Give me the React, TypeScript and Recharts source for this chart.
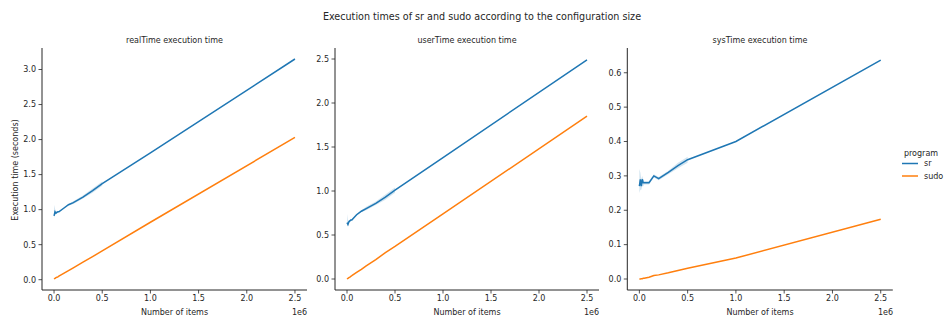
import React from "react";
import { ComposedChart, Line, Area, XAxis, YAxis } from "recharts";

const xs = [0, 10000, 20000, 30000, 40000, 50000, 100000, 150000, 200000, 300000, 400000, 500000, 1000000, 2500000];

const realSr = [0.91, 0.97, 0.95, 0.96, 0.97, 0.97, 1.02, 1.07, 1.1, 1.18, 1.27, 1.37, 1.81, 3.15];
const realSrLow = [0.88, 0.93, 0.93, 0.95, 0.96, 0.96, 1.01, 1.06, 1.08, 1.16, 1.24, 1.34, null, null];
const realSrHigh = [1.07, 1.01, 0.98, 0.98, 0.98, 0.98, 1.03, 1.08, 1.12, 1.2, 1.3, 1.4, null, null];
const realSudo = [0.01, 0.02, 0.03, 0.035, 0.04, 0.05, 0.09, 0.13, 0.17, 0.25, 0.33, 0.41, 0.82, 2.03];

const userSr = [0.64, 0.62, 0.65, 0.66, 0.67, 0.67, 0.73, 0.77, 0.8, 0.86, 0.93, 1.01, 1.38, 2.49];
const userSrLow = [0.6, 0.6, 0.63, 0.65, 0.66, 0.66, 0.72, 0.76, 0.78, 0.84, 0.9, 0.98, null, null];
const userSrHigh = [0.74, 0.66, 0.67, 0.67, 0.68, 0.68, 0.74, 0.78, 0.82, 0.88, 0.96, 1.04, null, null];
const userSudo = [0.0, 0.008, 0.015, 0.022, 0.03, 0.037, 0.074, 0.11, 0.148, 0.22, 0.3, 0.37, 0.74, 1.85];

const sysSr = [0.27, 0.29, 0.27, 0.29, 0.28, 0.28, 0.28, 0.3, 0.292, 0.31, 0.33, 0.347, 0.4, 0.637];
const sysSrLow = [0.25, 0.26, 0.26, 0.27, 0.27, 0.275, 0.275, 0.295, 0.287, 0.305, 0.322, 0.338, null, null];
const sysSrHigh = [0.32, 0.31, 0.29, 0.3, 0.29, 0.285, 0.285, 0.305, 0.297, 0.315, 0.338, 0.356, null, null];
const sysSudo = [0.0, 0.0, 0.001, 0.001, 0.002, 0.002, 0.005, 0.01, 0.012, 0.018, 0.025, 0.031, 0.061, 0.174];

const xTicks = [0, 500000, 1000000, 1500000, 2000000, 2500000];
const realTicks = [0, 0.5, 1.0, 1.5, 2.0, 2.5, 3.0];
const userTicks = [0, 0.5, 1.0, 1.5, 2.0, 2.5];
const sysTicks = [0, 0.1, 0.2, 0.3, 0.4, 0.5, 0.6];

const mainTitle = "Execution times of sr and sudo according to the configuration size";
const panelTitles = ["realTime execution time", "userTime execution time", "sysTime execution time"];
const yLabel = "Execution time (seconds)";
const xLabel = "Number of items";
const legendTitle = "program";
const seriesNames = ["sr", "sudo"];

const SR = "#1f77b4";
const SUDO = "#ff7f0e";
const INK = "#262626";
const FONT = "DejaVu Sans, sans-serif";

function build(sr: number[], lo: (number | null)[], hi: (number | null)[], sudo: number[]) {
  return xs.map((x, i) => ({
    x,
    sr: sr[i],
    sudo: sudo[i],
    band: lo[i] != null && hi[i] != null ? [lo[i], hi[i]] : null,
  }));
}

type PanelProps = {
  data: any[];
  left: number;
  width: number;
  yWidth: number;
  marginRight: number;
  yDomain: [number, number];
  yTicks: number[];
};

function Panel({ data, left, width, yWidth, marginRight, yDomain, yTicks }: PanelProps) {
  const tickStyle = { fontSize: 8, fill: INK, fontFamily: FONT };
  return (
    <div style={{ position: "absolute", left, top: 0 }}>
      <ComposedChart width={width} height={318} data={data} margin={{ top: 48, right: marginRight, bottom: 0, left: 0 }}>
        <XAxis
          dataKey="x"
          type="number"
          domain={[-125000, 2625000]}
          ticks={xTicks}
          tickFormatter={(v: number) => (v / 1e6).toFixed(1)}
          height={28}
          tick={tickStyle}
          tickSize={3.5}
          tickMargin={2}
          stroke={INK}
          axisLine={{ stroke: INK, strokeWidth: 1 }}
          tickLine={{ stroke: INK, strokeWidth: 0.8 }}
          allowDataOverflow
        />
        <YAxis
          type="number"
          domain={yDomain}
          ticks={yTicks}
          tickFormatter={(v: number) => v.toFixed(1)}
          width={yWidth}
          tick={tickStyle}
          tickSize={3.5}
          tickMargin={2.5}
          stroke={INK}
          axisLine={{ stroke: INK, strokeWidth: 1 }}
          tickLine={{ stroke: INK, strokeWidth: 0.8 }}
          allowDataOverflow
        />
        <Area
          dataKey="band"
          type="linear"
          stroke="none"
          fill={SR}
          fillOpacity={0.2}
          isAnimationActive={false}
          connectNulls={false}
          dot={false}
          activeDot={false}
        />
        <Line dataKey="sr" type="linear" stroke={SR} strokeWidth={1.5} dot={false} activeDot={false} isAnimationActive={false} />
        <Line dataKey="sudo" type="linear" stroke={SUDO} strokeWidth={1.5} dot={false} activeDot={false} isAnimationActive={false} />
      </ComposedChart>
    </div>
  );
}

export default function App() {
  const realData = build(realSr, realSrLow, realSrHigh, realSudo);
  const userData = build(userSr, userSrLow, userSrHigh, userSudo);
  const sysData = build(sysSr, sysSrLow, sysSrHigh, sysSudo);
  const centers = [174.5, 467, 760];
  const rightEnds = [307, 599, 893];
  return (
    <div style={{ position: "absolute", left: 0, top: 0, width: 945, height: 318, background: "#fff", fontFamily: FONT }}>
      <Panel data={realData} left={0} width={310} yWidth={42} marginRight={3} yDomain={[-0.147, 3.307]} yTicks={realTicks} />
      <Panel data={userData} left={300} width={310} yWidth={35} marginRight={11} yDomain={[-0.125, 2.625]} yTicks={userTicks} />
      <Panel data={sysData} left={600} width={345} yWidth={27.3} marginRight={52.2} yDomain={[-0.032, 0.672]} yTicks={sysTicks} />
      <svg width={945} height={318} style={{ position: "absolute", left: 0, top: 0, pointerEvents: "none" }}>
        <text x={482} y={20} textAnchor="middle" fontSize={9.6} fill={INK} fontFamily={FONT}>{mainTitle}</text>
        {panelTitles.map((t, i) => (
          <text key={t} x={centers[i]} y={43} textAnchor="middle" fontSize={8} fill={INK} fontFamily={FONT}>{t}</text>
        ))}
        {centers.map((c, i) => (
          <text key={"xl" + i} x={c} y={314.5} textAnchor="middle" fontSize={8} fill={INK} fontFamily={FONT}>{xLabel}</text>
        ))}
        {rightEnds.map((r, i) => (
          <text key={"off" + i} x={r} y={314.5} textAnchor="end" fontSize={8} fill={INK} fontFamily={FONT}>1e6</text>
        ))}
        <text x={0} y={0} transform="translate(17.5,170) rotate(-90)" textAnchor="middle" fontSize={8} fill={INK} fontFamily={FONT}>{yLabel}</text>
        <text x={921} y={155.5} textAnchor="middle" fontSize={8} fill={INK} fontFamily={FONT}>{legendTitle}</text>
        <line x1={902} x2={918} y1={163.5} y2={163.5} stroke={SR} strokeWidth={1.5} />
        <text x={924} y={166.3} fontSize={8} fill={INK} fontFamily={FONT}>{seriesNames[0]}</text>
        <line x1={902} x2={918} y1={176} y2={176} stroke={SUDO} strokeWidth={1.5} />
        <text x={924} y={178.8} fontSize={8} fill={INK} fontFamily={FONT}>{seriesNames[1]}</text>
      </svg>
    </div>
  );
}
